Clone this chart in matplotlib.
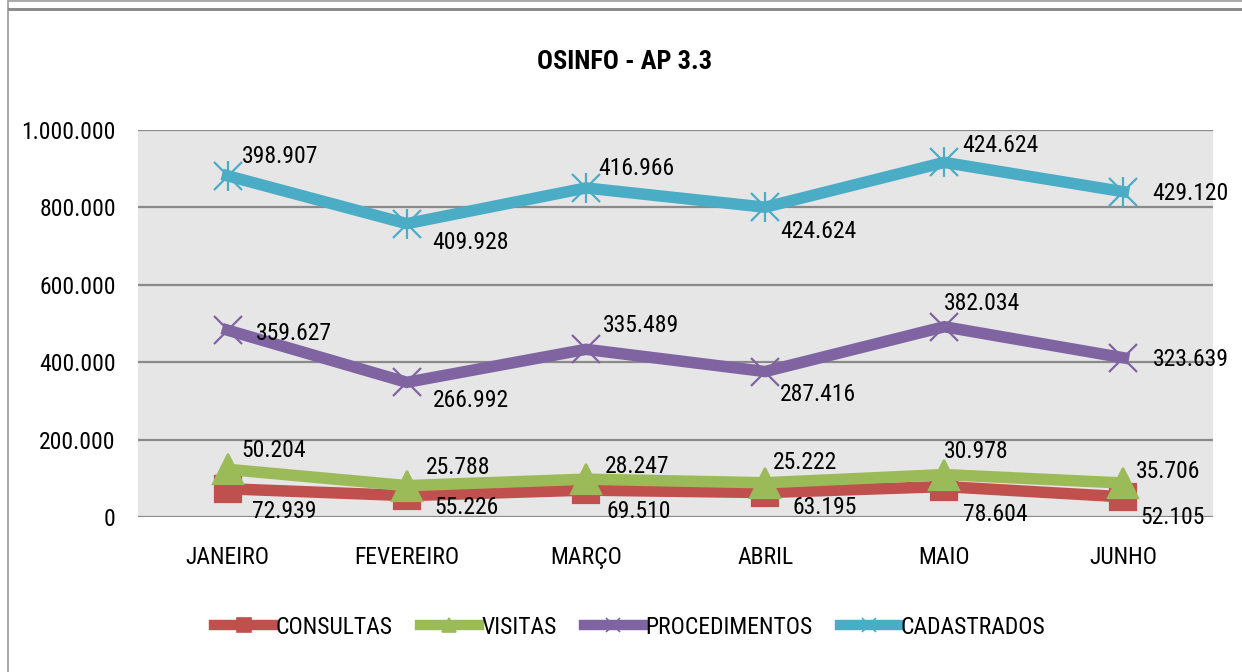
import matplotlib
matplotlib.use("Agg")
import matplotlib.pyplot as plt
from matplotlib.lines import Line2D
from matplotlib.patches import Rectangle
import numpy as np

plt.rcParams['font.family'] = ['Roboto Condensed', 'DejaVu Sans']

meses = ["JANEIRO", "FEVEREIRO", "MARÇO", "ABRIL", "MAIO", "JUNHO"]
consultas = [72939, 55226, 69510, 63195, 78604, 52105]
visitas = [50204, 25788, 28247, 25222, 30978, 35706]
procedimentos = [359627, 266992, 335489, 287416, 382034, 323639]
cadastrados = [398907, 409928, 416966, 424624, 424624, 429120]

nomes = ["CONSULTAS", "VISITAS", "PROCEDIMENTOS", "CADASTRADOS"]
cores = ["#C0504D", "#9BBB59", "#8064A2", "#4BACC6"]

# label offsets in pixels (dx, dy) per point, y up
offs = [
    [(24, -23), (28, -12), (21, -21), (27, -15), (19, -28), (17, -21)],
    [(14, 19), (19, 18), (19, 13), (8, 20), (0, 23), (12, 12)],
    [(28, -3), (26, -18), (17, 24), (15, -23), (0, 23), (29, -2)],
    [(14, 19), (26, -19), (12, 19), (15, -24), (18, 17), (29, -2)],
]

series = [consultas, visitas, procedimentos, cadastrados]
stack = np.cumsum(np.array(series, dtype=float), axis=0)

def fmt(v):
    return "{:,}".format(v).replace(",", ".")

fig = plt.figure(figsize=(12.42, 6.72), dpi=100)
fig.patches.append(Rectangle((8/1242, -0.1), 1.2, 1.1 - 8/672 + 0.01, transform=fig.transFigure,
                             fill=False, edgecolor="#999999", linewidth=1.2))
fig.patches.append(Rectangle((8/1242, 1 - 11/672), 1.0, 3/672, transform=fig.transFigure,
                             facecolor="#8c8c8c", edgecolor="none"))

ax = fig.add_axes([138/1242, 155/672, 1075/1242, 387/672])
ax.set_facecolor("#E6E6E6")
x = np.arange(len(meses))

mk = ["s", "^", "x", "x"]
msz = [19, 22, 20, 20]
for i in range(4):
    ax.plot(x, stack[i], color=cores[i], linewidth=8.3, marker=mk[i], markersize=msz[i],
            markeredgewidth=1.6, solid_joinstyle="miter", zorder=3 + i)
    if i == 3:
        ax.plot(x, stack[i], linestyle="none", marker="|", markersize=22, color=cores[i],
                markeredgewidth=1.6, zorder=3 + i)
    for j in range(len(meses)):
        dx, dy = offs[i][j]
        ax.annotate(fmt(series[i][j]), (x[j], stack[i][j]), xytext=(dx * 0.72, dy * 0.72),
                    textcoords="offset points", ha="left", va="center", fontsize=17, zorder=10)

ax.set_xlim(-0.5, 5.5)
ax.set_ylim(0, 1000000)
ax.set_yticks(np.arange(0, 1000001, 200000))
ax.set_yticklabels([fmt(v) for v in range(0, 1000001, 200000)], fontsize=17)
ax.set_xticks(x)
ax.set_xticklabels(meses, fontsize=17)
ax.tick_params(axis="both", length=0)
ax.tick_params(axis="y", pad=16)
ax.tick_params(axis="x", pad=21)
ax.grid(axis="y", color="#8a8a8a", linewidth=1.6)
ax.set_axisbelow(True)
for s in ax.spines.values():
    s.set_visible(False)

fig.text(625/1242, 1 - 62/672, "OSINFO - AP 3.3", ha="center", va="center", fontsize=19, fontweight="bold")

handles = []
for i in range(4):
    handles.append(Line2D([], [], color=cores[i], linewidth=7.5, marker=mk[i],
                          markersize=10, markeredgewidth=1.2))
fig.legend(handles, nomes, loc="center", bbox_to_anchor=(630/1242, 1 - 627/672), ncol=4,
           frameon=False, fontsize=17, handlelength=2.5, handletextpad=0.1, columnspacing=1.15)

fig.savefig("out.png", dpi=100)
